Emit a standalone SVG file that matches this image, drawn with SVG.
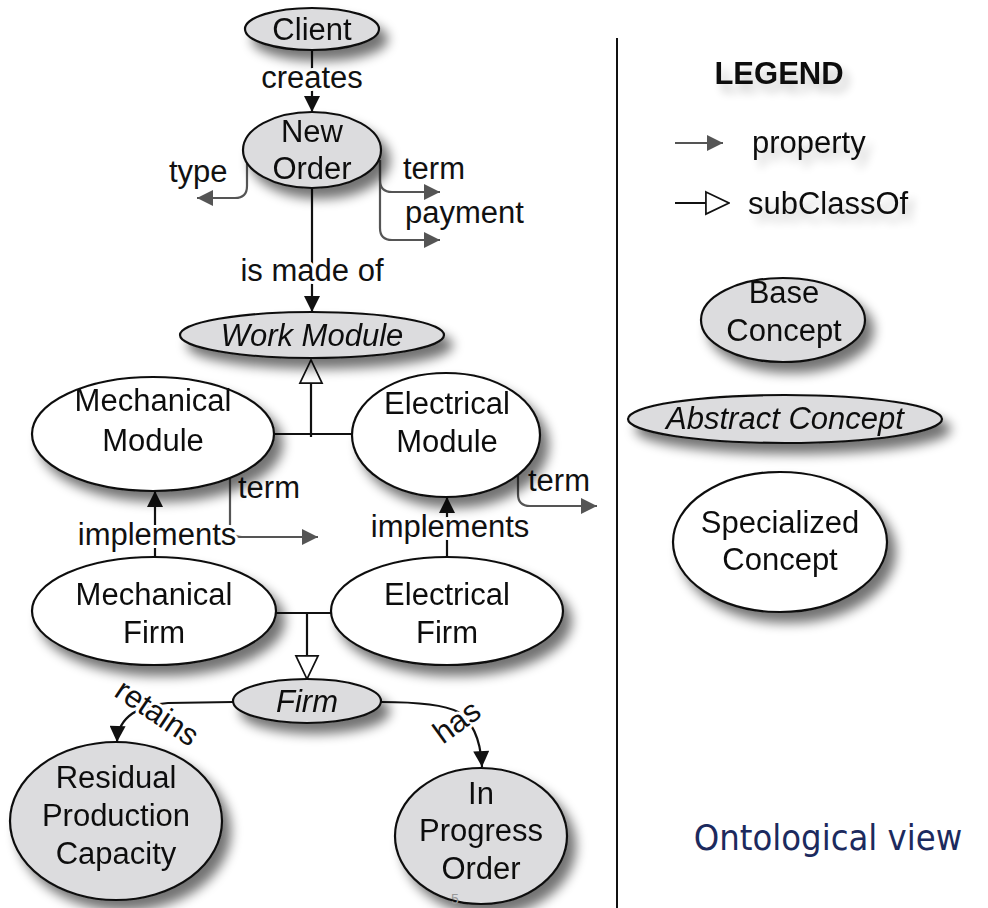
<svg xmlns="http://www.w3.org/2000/svg" width="988" height="908" viewBox="0 0 988 908">
<defs>
<style>
text{font-family:"Liberation Sans",Arial,Helvetica,sans-serif;font-size:31px;fill:#111;text-anchor:middle}
.base{fill:#dcdcde;stroke:#111;stroke-width:2.2}
.spec{fill:#ffffff;stroke:#111;stroke-width:2.2}
.it{font-style:italic}
.lbl{paint-order:stroke;stroke:#ffffff;stroke-width:6px;stroke-linejoin:round}
.st{text-anchor:start}
.ln{fill:none;stroke:#111;stroke-width:2.2}
.gl{fill:none;stroke:#555;stroke-width:2.2}
</style>
<filter id="sh" x="-30%" y="-30%" width="170%" height="190%">
<feGaussianBlur in="SourceAlpha" stdDeviation="6"/>
<feOffset dx="8" dy="10" result="b"/>
<feComponentTransfer><feFuncA type="linear" slope="0.55"/></feComponentTransfer>
<feMerge><feMergeNode/><feMergeNode in="SourceGraphic"/></feMerge>
</filter>
<filter id="tsh" x="-20%" y="-40%" width="150%" height="200%">
<feGaussianBlur in="SourceAlpha" stdDeviation="5"/>
<feOffset dx="6" dy="8"/>
<feComponentTransfer><feFuncA type="linear" slope="0.22"/></feComponentTransfer>
<feMerge><feMergeNode/><feMergeNode in="SourceGraphic"/></feMerge>
</filter>
<marker id="arr" viewBox="0 0 10 10" refX="10" refY="5" markerWidth="18" markerHeight="16" markerUnits="userSpaceOnUse" orient="auto"><path d="M0,0 L10,5 L0,10 z" fill="#111"/></marker>
<marker id="garr" viewBox="0 0 10 10" refX="10" refY="5" markerWidth="18" markerHeight="16" markerUnits="userSpaceOnUse" orient="auto"><path d="M0,0 L10,5 L0,10 z" fill="#555"/></marker>
<marker id="sub" viewBox="0 0 26 26" refX="25" refY="13" markerWidth="25" markerHeight="26" markerUnits="userSpaceOnUse" orient="auto"><path d="M1,1.5 L25,13 L1,24.5 z" fill="#fff" stroke="#111" stroke-width="1.8"/></marker>
</defs>
<rect width="988" height="908" fill="#ffffff"/>

<g id="connectors">
<path class="ln" d="M312,50 L312,112" marker-end="url(#arr)"/>
<path class="ln" d="M312,188 L312,312" marker-end="url(#arr)"/>
<path class="gl" d="M247,163 L247,186 Q247,198 235,198 L197,198" marker-end="url(#garr)"/>
<path class="gl" d="M380,160 L380,180 Q380,192 392,192 L440,192" marker-end="url(#garr)"/>
<path class="gl" d="M380,160 L380,228 Q380,240 392,240 L440,240" marker-end="url(#garr)"/>
<path class="ln" d="M274,434 L352,434"/>
<path class="ln" d="M311,437 L311,360" marker-end="url(#sub)"/>
<path class="gl" d="M230,478 L230,525 Q230,537 242,537 L318,537" marker-end="url(#garr)"/>
<path class="gl" d="M518,476 L518,494 Q518,506 530,506 L597,506" marker-end="url(#garr)"/>
<path class="ln" d="M155,557 L155,491" marker-end="url(#arr)"/>
<path class="ln" d="M447,558 L447,497" marker-end="url(#arr)"/>
<path class="ln" d="M276,613 L331,613"/>
<path class="ln" d="M307,613 L307,679" marker-end="url(#sub)"/>
<path class="ln" d="M233,702 L168,703 C140,705 118,716 117,742" marker-end="url(#arr)"/>
<path class="ln" d="M381,702 C420,702 445,705 458,712 Q480,726 482,767" marker-end="url(#arr)"/>
<path class="gl" d="M675,143 L723,143" marker-end="url(#garr)"/>
<path class="ln" d="M675,203 L729,203" marker-end="url(#sub)"/>
<text class="lbl" x="312" y="88">creates</text>
<text class="lbl" x="312" y="281">is made of</text>
<text class="st" x="169" y="182">type</text>
<text class="st" x="403" y="179">term</text>
<text class="st" x="405" y="223">payment</text>
<text class="st" x="238" y="498">term</text>
<text class="st" x="528" y="491">term</text>
<text class="lbl" x="157" y="545">implements</text>
<text class="lbl" x="450" y="537">implements</text>
<text class="lbl" transform="rotate(34 157 713)" x="157" y="723">retains</text>
<text class="lbl" transform="rotate(-36 457 722)" x="457" y="732">has</text>
</g>

<g id="client" filter="url(#sh)"><ellipse class="base" cx="312" cy="29" rx="67" ry="21"/><text x="312" y="40">Client</text></g>
<g id="new-order" filter="url(#sh)"><ellipse class="base" cx="312" cy="150" rx="69" ry="38"/><text x="312" y="142">New</text><text x="312" y="179">Order</text></g>
<g id="work-module" filter="url(#sh)"><ellipse class="base" cx="312" cy="335" rx="132" ry="23"/><text class="it" x="312" y="346">Work Module</text></g>
<g id="mechanical-module" filter="url(#sh)"><ellipse class="spec" cx="153" cy="434" rx="121" ry="57"/><text x="153" y="411">Mechanical</text><text x="153" y="451">Module</text></g>
<g id="electrical-module" filter="url(#sh)"><ellipse class="spec" cx="446" cy="435" rx="94" ry="62"/><text x="447" y="414">Electrical</text><text x="447" y="452">Module</text></g>
<g id="mechanical-firm" filter="url(#sh)"><ellipse class="spec" cx="154" cy="611" rx="122" ry="54"/><text x="154" y="605">Mechanical</text><text x="154" y="643">Firm</text></g>
<g id="electrical-firm" filter="url(#sh)"><ellipse class="spec" cx="447" cy="611" rx="116" ry="54"/><text x="447" y="605">Electrical</text><text x="447" y="643">Firm</text></g>
<g id="firm" filter="url(#sh)"><ellipse class="base" cx="307" cy="701" rx="74" ry="22"/><text class="it" x="307" y="712">Firm</text></g>
<g id="residual" filter="url(#sh)"><ellipse class="base" cx="116" cy="821" rx="106" ry="79"/><text x="116" y="788">Residual</text><text x="116" y="826">Production</text><text x="116" y="864">Capacity</text></g>
<g id="in-progress-order" filter="url(#sh)"><ellipse class="base" cx="481" cy="836" rx="86" ry="68"/><text x="481" y="804">In</text><text x="481" y="841">Progress</text><text x="481" y="879">Order</text></g>

<line x1="617" y1="38" x2="617" y2="908" stroke="#111" stroke-width="2"/>

<g id="legend">
<text filter="url(#tsh)" x="779" y="84" style="font-weight:bold">LEGEND</text>
<text filter="url(#tsh)" class="st" x="752" y="153">property</text>
<text filter="url(#tsh)" class="st" x="748" y="214">subClassOf</text>
<g id="legend-base" filter="url(#sh)"><ellipse class="base" cx="783" cy="320" rx="82" ry="42"/><text x="784" y="303">Base</text><text x="784" y="341">Concept</text></g>
<g id="legend-abstract" filter="url(#sh)"><ellipse class="base" cx="785" cy="419" rx="157" ry="24"/><text class="it" x="785" y="429">Abstract Concept</text></g>
<g id="legend-specialized" filter="url(#sh)"><ellipse class="spec" cx="780" cy="542" rx="107" ry="70"/><text x="780" y="533">Specialized</text><text x="780" y="570">Concept</text></g>
</g>

<text x="828" y="850" style="font-family:'DejaVu Sans Condensed','DejaVu Sans',Verdana,sans-serif;font-stretch:condensed;font-size:36px;fill:#1c2a5e">Ontological view</text>
<text x="455" y="904" style="font-size:14px;fill:#999">5</text>
</svg>
